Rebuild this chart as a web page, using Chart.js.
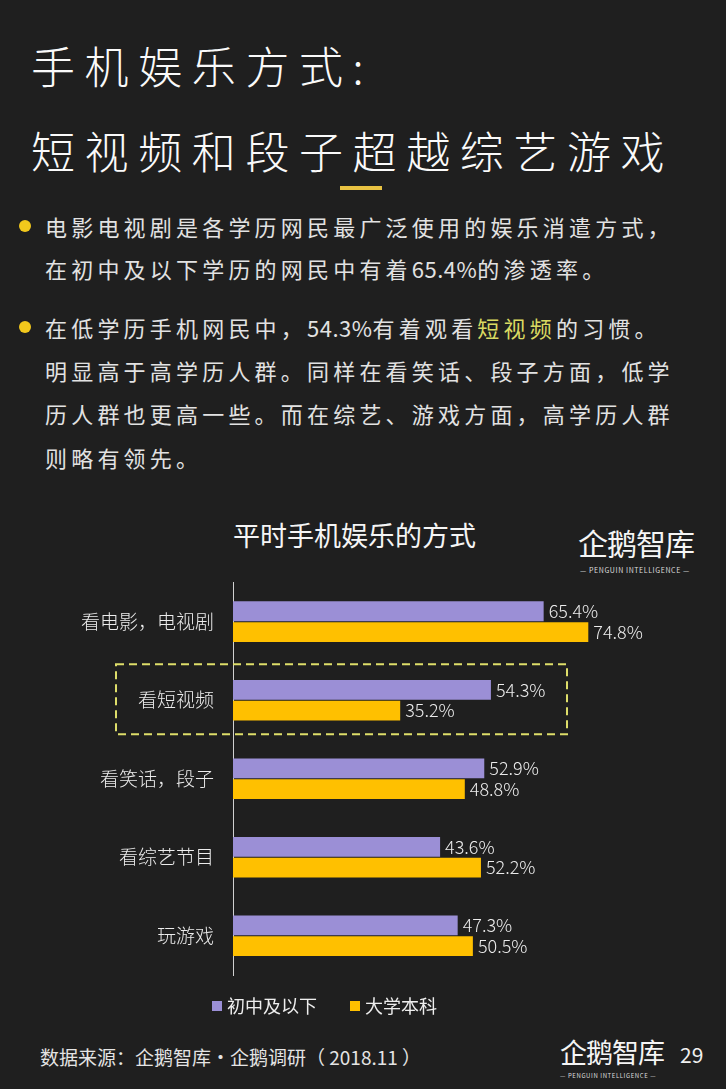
<!DOCTYPE html>
<html>
<head>
<meta charset="utf-8">
<script src="https://cdn.jsdelivr.net/npm/chart.js@4"></script>
<style>
  html, body { margin: 0; padding: 0; }
  body { width: 726px; height: 1089px; background: #1f1f1f; position: relative; overflow: hidden;
         font-family: "Noto Sans CJK SC", "Noto Sans", sans-serif; color: #e6e6e6; }
  .abs { position: absolute; white-space: nowrap; }
  .title { left: 31px; font-size: 44px; letter-spacing: 9.6px; color: #fafafa; font-weight: 300; line-height: 1; }
  .rule { left: 340px; top: 186px; width: 42px; height: 4px; background: #e8c242; }
  .dot { width: 12px; height: 12px; border-radius: 50%; background: #f2c81c; left: 19px; }
  .para { left: 45px; font-size: 22px; letter-spacing: 4.2px; line-height: 1; color: #e2e2e2; }
  .num { letter-spacing: 0.5px; }
  .hl { color: #dada62; }
  .ctitle { left: 233px; top: 521px; font-size: 27px; color: #f5f5f5; line-height: 1; }
  .logo { font-size: 30px; color: #f5f5f5; line-height: 1; letter-spacing: -1px; font-weight: 400; }
  .logosub { font-size: 7px; color: #dddddd; letter-spacing: 0.6px; line-height: 1; }
  #wrap { position: absolute; left: 0; top: 560px; width: 726px; height: 440px; }
  .leg { top: 996px; font-size: 18px; line-height: 1; color: #eeeeee; }
  .sq { display: inline-block; width: 10px; height: 10px; margin-right: 5px; vertical-align: 2px; }
  .src { left: 40px; top: 1047px; font-size: 19px; line-height: 1; color: #e4e4e4; }
  .page { left: 680px; top: 1044px; font-size: 21px; line-height: 1; color: #f0f0f0; }
</style>
</head>
<body>
<div class="abs title" style="top:43px">手机娱乐方式:</div>
<div class="abs title" style="top:128px">短视频和段子超越综艺游戏</div>
<div class="abs rule"></div>

<div class="abs dot" style="top:220px"></div>
<div class="abs para" style="top:215px">电影电视剧是各学历网民最广泛使用的娱乐消遣方式，</div>
<div class="abs para" style="top:257px">在初中及以下学历的网民中有着<span class="num">65.4%</span>的渗透率。</div>
<div class="abs dot" style="top:321px"></div>
<div class="abs para" style="top:316px">在低学历手机网民中，<span class="num">54.3%</span>有着观看<span class="hl">短视频</span>的习惯。</div>
<div class="abs para" style="top:359px">明显高于高学历人群。同样在看笑话、段子方面，低学</div>
<div class="abs para" style="top:402px">历人群也更高一些。而在综艺、游戏方面，高学历人群</div>
<div class="abs para" style="top:446px">则略有领先。</div>

<div class="abs ctitle">平时手机娱乐的方式</div>
<div class="abs logo" style="left:578px; top:527px">企鹅智库</div>
<div class="abs logosub" style="left:580px; top:567px">— PENGUIN INTELLIGENCE —</div>

<div id="wrap"><canvas id="chart"></canvas></div>

<div class="abs leg" style="left:212px"><span class="sq" style="background:#9b8fd6"></span>初中及以下</div>
<div class="abs leg" style="left:350px"><span class="sq" style="background:#ffc000"></span>大学本科</div>

<div class="abs src">数据来源：企鹅智库·企鹅调研（ 2018.11 ）</div>
<div class="abs logo" style="left:560px; top:1038px; font-size:27px">企鹅智库</div>
<div class="abs logosub" style="left:560px; top:1073px; font-size:6px">— PENGUIN INTELLIGENCE —</div>
<div class="abs page">29</div>

<script>
// chart data
const categories = ['看电影，电视剧', '看短视频', '看笑话，段子', '看综艺节目', '玩游戏'];
const lowEdu = [65.4, 54.3, 52.9, 43.6, 47.3];
const college = [74.8, 35.2, 48.8, 52.2, 50.5];
const seriesNames = ['初中及以下', '大学本科'];
const highlightIndex = 1;

// value labels at the end of each bar
const valueLabels = {
    id: 'valueLabels',
    afterDatasetsDraw(chart) {
        const ctx = chart.ctx;
        ctx.save();
        ctx.font = '300 18px "Noto Sans CJK SC", sans-serif';
        ctx.fillStyle = '#ececec';
        ctx.textAlign = 'left';
        ctx.textBaseline = 'middle';
        chart.data.datasets.forEach((ds, i) => {
            chart.getDatasetMeta(i).data.forEach((bar, j) => {
                ctx.fillText(ds.data[j].toFixed(1) + '%', bar.x + 5, bar.y);
            });
        });
        ctx.restore();
    }
};

// dashed box round the highlighted category
const highlightBox = {
    id: 'highlightBox',
    afterDraw(chart) {
        const y = chart.scales.y.getPixelForValue(highlightIndex);
        const ctx = chart.ctx;
        ctx.save();
        ctx.strokeStyle = '#dede6a';
        ctx.lineWidth = 2;
        ctx.setLineDash([8, 5]);
        ctx.strokeRect(116, y - 36, 451, 70);
        ctx.restore();
    }
};

new Chart(document.getElementById('chart'), {
    type: 'bar',
    data: {
        labels: categories,
        datasets: [
            { label: seriesNames[0], data: lowEdu, backgroundColor: '#9b8fd6' },
            { label: seriesNames[1], data: college, backgroundColor: '#ffc000' }
        ]
    },
    options: {
        indexAxis: 'y',
        responsive: true,
        maintainAspectRatio: false,
        animation: false,
        layout: { padding: { top: 20, bottom: 25, left: 0, right: 18 } },
        datasets: { bar: { categoryPercentage: 0.53, barPercentage: 0.95 } },
        plugins: { legend: { display: false }, tooltip: { enabled: false } },
        scales: {
            x: { display: false, min: 0, max: 100 },
            y: {
                grid: { display: false },
                border: { display: true, color: '#d0d0d0', width: 1 },
                ticks: {
                    color: '#ececec',
                    padding: 11,
                    font: { family: '"Noto Sans CJK SC", sans-serif', size: 19, weight: '300' }
                },
                afterFit(scale) { scale.width = 233; }
            }
        }
    },
    plugins: [valueLabels, highlightBox]
});
</script>
</body>
</html>
